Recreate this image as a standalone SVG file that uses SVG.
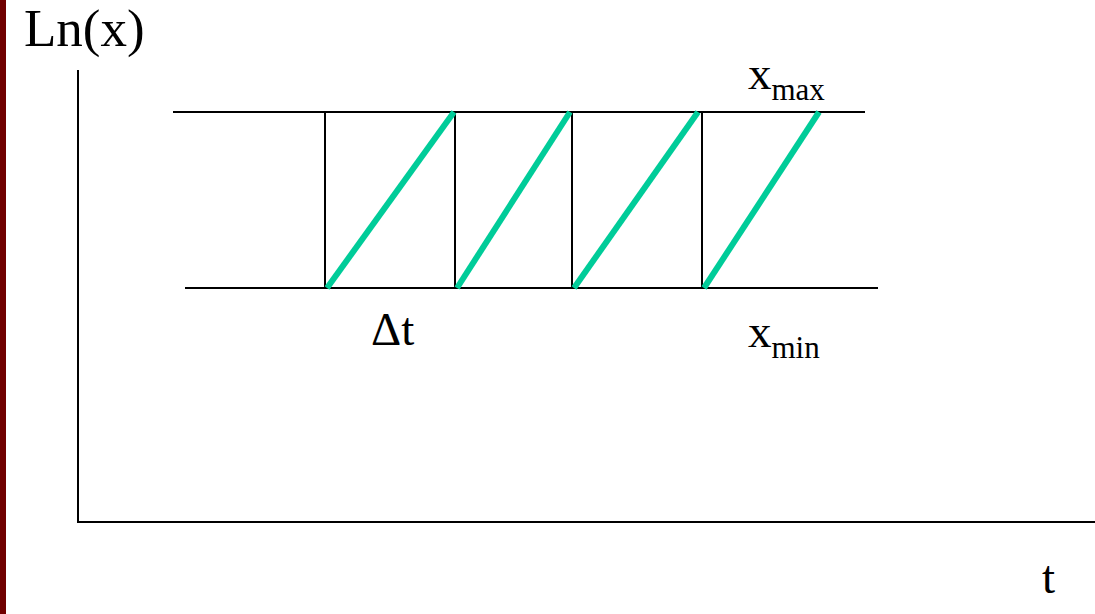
<svg xmlns="http://www.w3.org/2000/svg" width="1095" height="614" viewBox="0 0 1095 614">
<style>
.t{font-family:"Liberation Serif","DejaVu Serif",serif;fill:#000}
.k{stroke:#000;stroke-width:2;fill:none}
.g{stroke:#00CC99;stroke-width:6;stroke-linecap:butt}
</style>
<rect x="0" y="0" width="1095" height="614" fill="#fff"/>
<rect x="0" y="0" width="6" height="614" fill="#700000"/>
<g id="axes">
<line class="k" x1="78" y1="70" x2="78" y2="522"/>
<line class="k" x1="77" y1="522" x2="1095" y2="522"/>
</g>
<g id="grid">
<line class="k" x1="173" y1="112" x2="865" y2="112"/>
<line class="k" x1="185" y1="288" x2="878" y2="288"/>
<line class="k" x1="325" y1="112" x2="325" y2="288"/>
<line class="k" x1="455" y1="112" x2="455" y2="288"/>
<line class="k" x1="572" y1="112" x2="572" y2="288"/>
<line class="k" x1="702" y1="112" x2="702" y2="288"/>
</g>
<g id="connectors">
<line class="g" x1="327" y1="288" x2="454" y2="112"/>
<line class="g" x1="457" y1="288" x2="570" y2="112"/>
<line class="g" x1="574" y1="288" x2="698" y2="112"/>
<line class="g" x1="704" y1="288" x2="819" y2="112"/>
</g>
<g id="labels">
<text class="t" x="24" y="46" font-size="53">Ln(x)</text>
<text class="t" x="748" y="89" font-size="47">x<tspan font-size="31" dy="11">max</tspan></text>
<text class="t" x="748" y="347" font-size="47">x<tspan font-size="31" dy="11">min</tspan></text>
<text class="t" x="371" y="345" font-size="47">Δt</text>
<text class="t" x="1042" y="593" font-size="47">t</text>
</g>
</svg>
